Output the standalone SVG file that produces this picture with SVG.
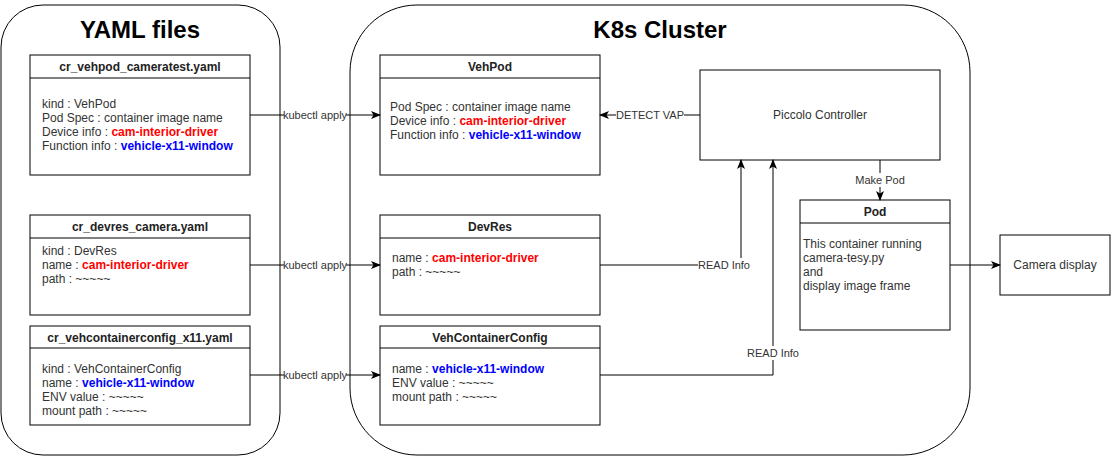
<svg xmlns="http://www.w3.org/2000/svg" width="1111" height="456" viewBox="0 0 1111 456">
<defs>
<marker id="arr" viewBox="0 0 10 8" refX="9" refY="4" markerWidth="10" markerHeight="8" markerUnits="userSpaceOnUse" orient="auto">
<path d="M0,0 L10,4 L0,8 L2.5,4 Z" fill="#000"/>
</marker>
<style>
text{font-family:"Liberation Sans",Arial,Helvetica,sans-serif;fill:#333}
.title{font-size:24px;font-weight:bold;fill:#000;text-anchor:middle}
.hdr{font-size:12px;font-weight:bold;fill:#222;text-anchor:middle}
.body{font-size:12px}
.lbl{font-size:11px;text-anchor:middle}
.mid{font-size:12px;text-anchor:middle}
.red{fill:#ff0000;font-weight:bold}
.blue{fill:#0000ff;font-weight:bold}
.box{fill:#fff;stroke:#000;stroke-width:1}
.cont{fill:#fff;stroke:#000;stroke-width:1}
.line{fill:none;stroke:#000;stroke-width:1}
.bg{fill:#fff}
</style>
</defs>
<rect width="1111" height="456" fill="#fff"/>
<g id="yaml-files">
<rect class="cont" x="1" y="5" width="279" height="450" rx="42" ry="42"/>
<text class="title" x="140" y="38">YAML files</text>
</g>
<g id="k8s-cluster">
<rect class="cont" x="350" y="5" width="620" height="450" rx="67" ry="67"/>
<text class="title" x="660" y="38">K8s Cluster</text>
</g>
<g id="cr-vehpod">
<rect class="box" x="30" y="55" width="220" height="120"/>
<line class="line" x1="30" y1="78" x2="250" y2="78"/>
<text class="hdr" x="140" y="71">cr_vehpod_cameratest.yaml</text>
<text class="body" x="42" y="108">kind : VehPod</text>
<text class="body" x="42" y="122">Pod Spec : container image name</text>
<text class="body" x="42" y="136">Device info : <tspan class="red">cam-interior-driver</tspan></text>
<text class="body" x="42" y="150">Function info : <tspan class="blue">vehicle-x11-window</tspan></text>
</g>
<g id="cr-devres">
<rect class="box" x="30" y="215" width="220" height="100"/>
<line class="line" x1="30" y1="238" x2="250" y2="238"/>
<text class="hdr" x="140" y="231">cr_devres_camera.yaml</text>
<text class="body" x="42" y="255">kind : DevRes</text>
<text class="body" x="42" y="269">name : <tspan class="red">cam-interior-driver</tspan></text>
<text class="body" x="42" y="283">path : ~~~~~</text>
</g>
<g id="cr-vehcontainerconfig">
<rect class="box" x="30" y="326" width="220" height="99"/>
<line class="line" x1="30" y1="348" x2="250" y2="348"/>
<text class="hdr" x="140" y="342">cr_vehcontainerconfig_x11.yaml</text>
<text class="body" x="42" y="373">kind : VehContainerConfig</text>
<text class="body" x="42" y="387">name : <tspan class="blue">vehicle-x11-window</tspan></text>
<text class="body" x="42" y="401">ENV value : ~~~~~</text>
<text class="body" x="42" y="415">mount path : ~~~~~</text>
</g>
<g id="vehpod">
<rect class="box" x="380" y="55" width="220" height="120"/>
<line class="line" x1="380" y1="78" x2="600" y2="78"/>
<text class="hdr" x="490" y="71">VehPod</text>
<text class="body" x="390" y="111">Pod Spec : container image name</text>
<text class="body" x="390" y="125">Device info : <tspan class="red">cam-interior-driver</tspan></text>
<text class="body" x="390" y="139">Function info : <tspan class="blue">vehicle-x11-window</tspan></text>
</g>
<g id="devres">
<rect class="box" x="380" y="215" width="220" height="100"/>
<line class="line" x1="380" y1="238" x2="600" y2="238"/>
<text class="hdr" x="490" y="231">DevRes</text>
<text class="body" x="392" y="262">name : <tspan class="red">cam-interior-driver</tspan></text>
<text class="body" x="392" y="276">path : ~~~~~</text>
</g>
<g id="vehcontainerconfig">
<rect class="box" x="380" y="326" width="220" height="99"/>
<line class="line" x1="380" y1="348" x2="600" y2="348"/>
<text class="hdr" x="490" y="342">VehContainerConfig</text>
<text class="body" x="392" y="373">name : <tspan class="blue">vehicle-x11-window</tspan></text>
<text class="body" x="392" y="387">ENV value : ~~~~~</text>
<text class="body" x="392" y="401">mount path : ~~~~~</text>
</g>
<g id="piccolo-controller">
<rect class="box" x="700" y="70" width="240" height="90"/>
<text class="mid" x="820" y="119">Piccolo Controller</text>
</g>
<g id="pod">
<rect class="box" x="800" y="200" width="150" height="130"/>
<line class="line" x1="800" y1="223" x2="950" y2="223"/>
<text class="hdr" x="875" y="216">Pod</text>
<text class="body" x="803" y="248">This container running</text>
<text class="body" x="803" y="262">camera-tesy.py</text>
<text class="body" x="803" y="276">and</text>
<text class="body" x="803" y="290">display image frame</text>
</g>
<g id="camera-display">
<rect class="box" x="1000" y="235" width="110" height="60"/>
<text class="mid" x="1055" y="269">Camera display</text>
</g>
<g id="connectors">
<path class="line" d="M250,115 H380" marker-end="url(#arr)"/>
<rect class="bg" x="284" y="108" width="62" height="14"/>
<text class="lbl" x="315" y="119">kubectl apply</text>
<path class="line" d="M250,265 H380" marker-end="url(#arr)"/>
<rect class="bg" x="284" y="258" width="62" height="14"/>
<text class="lbl" x="315" y="269">kubectl apply</text>
<path class="line" d="M250,375 H380" marker-end="url(#arr)"/>
<rect class="bg" x="284" y="368" width="62" height="14"/>
<text class="lbl" x="315" y="379">kubectl apply</text>
<path class="line" d="M700,115 H600" marker-end="url(#arr)"/>
<rect class="bg" x="616" y="108" width="68" height="14"/>
<text class="lbl" x="650" y="119">DETECT VAP</text>
<path class="line" d="M600,265 H741 V160" marker-end="url(#arr)"/>
<rect class="bg" x="698" y="258" width="52" height="14"/>
<text class="lbl" x="724" y="269">READ Info</text>
<path class="line" d="M600,375 H773 V160" marker-end="url(#arr)"/>
<rect class="bg" x="747" y="346" width="52" height="14"/>
<text class="lbl" x="773" y="357">READ Info</text>
<path class="line" d="M880,160 V200" marker-end="url(#arr)"/>
<rect class="bg" x="856" y="173" width="48" height="14"/>
<text class="lbl" x="880" y="184">Make Pod</text>
<path class="line" d="M950,265 H1000" marker-end="url(#arr)"/>
</g>
</svg>
